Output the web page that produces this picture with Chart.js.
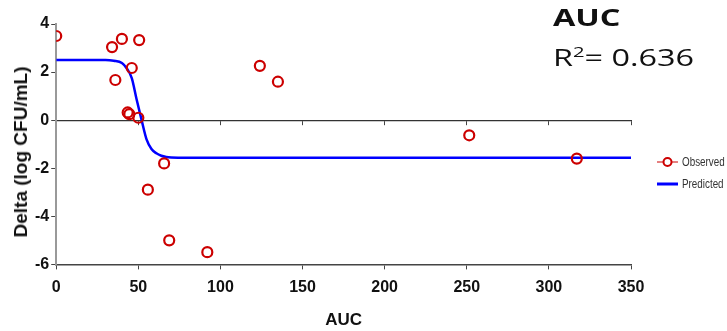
<!DOCTYPE html>
<html>
<head>
<meta charset="utf-8">
<script src="https://cdn.jsdelivr.net/npm/chart.js@4"></script>
<style>
  body { margin: 0; background: #fff; }
  #wrap { position: relative; width: 727px; height: 331px; }
  #title { position: absolute; left: 553px; top: 0px; font-family: "Open Sans", sans-serif; color: #111; transform: scaleX(1.35); transform-origin: left top; }
  #title .t1 { font-size: 24px; font-weight: bold; line-height: 34px; }
  #title .t2 { font-size: 24px; line-height: 34px; }
  #ytitle { position: absolute; left: 21px; top: 152px; transform: translate(-50%, -50%) rotate(-90deg); white-space: nowrap; font-family: "Liberation Sans", Arial, sans-serif; font-size: 19px; font-weight: bold; color: #111; }
  #legend { position: absolute; left: 657px; top: 151px; font-family: "Liberation Sans", sans-serif; font-size: 12px; color: #333; }
  #legend div { height: 22px; display: flex; align-items: center; }
  #legend svg { margin-right: 4px; }
  #legend span { display: inline-block; transform: scaleX(0.82); transform-origin: left center; }
</style>
</head>
<body>
<div id="wrap">
  <canvas id="chart" width="727" height="331"></canvas>
  <div id="title"><div class="t1">AUC</div><div class="t2">R<sup style="font-size:15px">2</sup>= 0.636</div></div>
  <div id="ytitle">Delta (log CFU/mL)</div>
  <div id="legend">
    <div><svg width="21" height="12"><line x1="0" y1="6" x2="21" y2="6" stroke="#cc0000" stroke-width="1"/><circle cx="10.5" cy="6" r="4" fill="#fff" stroke="#cc0000" stroke-width="2"/></svg><span>Observed</span></div>
    <div><svg width="21" height="12"><line x1="0" y1="6" x2="21" y2="6" stroke="#0000ff" stroke-width="3"/></svg><span>Predicted</span></div>
  </div>
</div>
<script>
// 觀測值 (AUC, Delta)
const obsAUC = [0, 34, 40, 50.5, 36, 46, 43.5, 44.5, 50, 65.7, 55.8, 68.8, 92, 124, 135, 251.5, 317];
const obsDelta = [3.5, 3.04, 3.38, 3.33, 1.67, 2.17, 0.32, 0.25, 0.1, -1.8, -2.89, -5.0, -5.49, 2.26, 1.6, -0.63, -1.6];

// 預測曲線
const predAUC = [0, 30, 35, 40, 43, 46, 49, 52, 55, 58, 61, 64, 67, 70, 80, 100, 200, 350];
const predDelta = [2.5, 2.5, 2.47, 2.38, 2.15, 1.75, 0.85, 0.0, -0.8, -1.2, -1.38, -1.48, -1.53, -1.55, -1.56, -1.56, -1.56, -1.56];

const xTicks = [0, 50, 100, 150, 200, 250, 300, 350];
const yTicks = [-6, -4, -2, 0, 2, 4];

const sans = '"Liberation Sans", Arial, sans-serif';
const tickFont = { family: sans, size: 16, weight: 'bold' };

const ctx = document.getElementById('chart').getContext('2d');
new Chart(ctx, {
    type: 'scatter',
    data: {
        datasets: [{
            label: 'Observed',
            data: obsAUC.map((x, i) => ({ x: x, y: obsDelta[i] })),
            borderColor: '#cc0000',
            backgroundColor: 'rgba(0,0,0,0)',
            pointRadius: 5,
            borderWidth: 2.2,
            order: 1
        }, {
            label: 'Predicted',
            type: 'line',
            data: predAUC.map((x, i) => ({ x: x, y: predDelta[i] })),
            borderColor: '#0000ff',
            borderWidth: 2.5,
            pointRadius: 0,
            cubicInterpolationMode: 'monotone',
            fill: false,
            order: 2
        }]
    },
    options: {
        responsive: false,
        animation: false,
        layout: { padding: { left: 33, right: 96, top: 24, bottom: 0 } },
        plugins: { legend: { display: false }, tooltip: { enabled: false } },
        scales: {
            x: {
                type: 'linear', min: 0, max: 350,
                afterBuildTicks: s => { s.ticks = xTicks.map(v => ({ value: v })); },
                grid: { color: 'rgba(0,0,0,0)', tickColor: '#444', tickLength: 5 },
                border: { color: '#444', width: 1.5 },
                ticks: { font: tickFont, color: '#111', padding: 9 },
                title: { display: true, text: 'AUC', font: { family: sans, size: 17, weight: 'bold' }, color: '#111', padding: { top: 4, bottom: 0 } }
            },
            x0: {
                type: 'linear', min: 0, max: 350, position: { y: 0 },
                afterBuildTicks: s => { s.ticks = xTicks.map(v => ({ value: v })); },
                grid: { color: 'rgba(0,0,0,0)', tickColor: '#444', tickLength: 4 },
                border: { color: '#333', width: 1.2 },
                ticks: { display: false }
            },
            y: {
                type: 'linear', min: -6, max: 4,
                afterBuildTicks: s => { s.ticks = yTicks.map(v => ({ value: v })); },
                grid: { color: 'rgba(0,0,0,0)', tickColor: '#444', tickLength: 5 },
                border: { color: '#999', width: 2 },
                ticks: { font: tickFont, color: '#111', padding: 2 }
            }
        }
    }
});
</script>
</body>
</html>
